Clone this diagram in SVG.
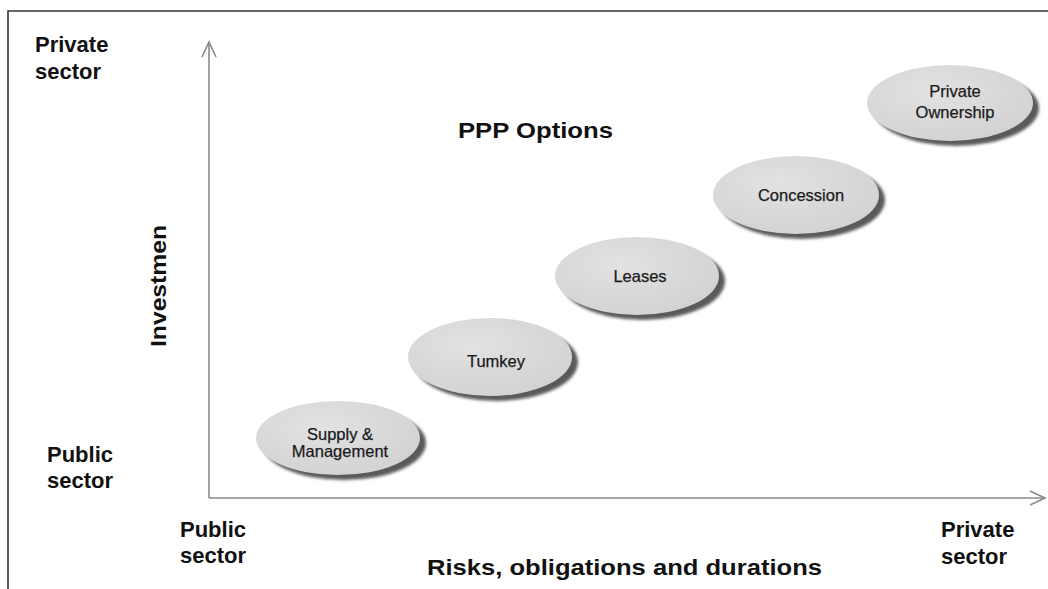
<svg xmlns="http://www.w3.org/2000/svg" width="1048" height="589" viewBox="0 0 1048 589">
  <style>
    .lbl { font-family: "Liberation Sans", Arial, sans-serif; font-weight: bold; font-size: 22px; fill: #111; }
    .node-text { font-family: "Liberation Sans", Arial, sans-serif; font-size: 16.5px; fill: #1a1a1a; text-anchor: middle; stroke: #1a1a1a; stroke-width: 0.25; }
    .shadow { fill: #5a5a5a; filter: url(#blur); }
    .body { fill: #dadada; }
    .axis { stroke: #8a8a8a; stroke-width: 1.6; fill: none; }
  </style>
  <defs>
    <filter id="blur" x="-10%" y="-10%" width="120%" height="120%">
      <feGaussianBlur stdDeviation="1.5"/>
    </filter>
    <radialGradient id="g" cx="40%" cy="35%" r="70%">
      <stop offset="0" stop-color="#e2e2e2"/>
      <stop offset="1" stop-color="#d2d2d2"/>
    </radialGradient>
    <marker id="arr" markerWidth="20" markerHeight="20" refX="16" refY="8" orient="auto" markerUnits="userSpaceOnUse">
      <path d="M1,1 L16,8 L1,15" fill="none" stroke="#8a8a8a" stroke-width="1.6"/>
    </marker>
  </defs>
  <rect width="1048" height="589" fill="#ffffff"/>
  <!-- frame -->
  <path d="M8,589 L8,11 L1048,11" fill="none" stroke="#333" stroke-width="1.6"/>

  <g id="connectors">
    <path class="axis" d="M209,498 L209,42" marker-end="url(#arr)"/>
    <path class="axis" d="M209,498 L1045,498" marker-end="url(#arr)"/>
  </g>

  <g id="labels">
    <text class="lbl" x="35" y="52">Private</text>
    <text class="lbl" x="35" y="79">sector</text>
    <text class="lbl" x="47" y="462">Public</text>
    <text class="lbl" x="47" y="488">sector</text>
    <text class="lbl" x="180" y="537">Public</text>
    <text class="lbl" x="180" y="563">sector</text>
    <text class="lbl" x="941" y="537">Private</text>
    <text class="lbl" x="941" y="564">sector</text>
    <text class="lbl" x="458" y="138" textLength="155" lengthAdjust="spacingAndGlyphs">PPP Options</text>
    <text class="lbl" x="427" y="575" font-size="24" textLength="395" lengthAdjust="spacingAndGlyphs">Risks, obligations and durations</text>
    <text class="lbl" transform="translate(166,286) rotate(-90)" text-anchor="middle" font-size="24" textLength="122" lengthAdjust="spacingAndGlyphs">Investmen</text>
  </g>

  <g id="node-supply">
    <ellipse class="shadow" cx="344" cy="443" rx="82" ry="37"/>
    <ellipse class="body" style="fill:url(#g)" cx="338" cy="438" rx="82" ry="37"/>
    <text class="node-text" x="340" y="440">Supply &amp;</text>
    <text class="node-text" x="340" y="457">Management</text>
  </g>
  <g id="node-turnkey">
    <ellipse class="shadow" cx="496" cy="362" rx="82" ry="39"/>
    <ellipse class="body" style="fill:url(#g)" cx="490" cy="357" rx="82" ry="39"/>
    <text class="node-text" x="496" y="367">Tumkey</text>
  </g>
  <g id="node-leases">
    <ellipse class="shadow" cx="643" cy="281" rx="82" ry="39"/>
    <ellipse class="body" style="fill:url(#g)" cx="637" cy="276" rx="82" ry="39"/>
    <text class="node-text" x="640" y="282">Leases</text>
  </g>
  <g id="node-concession">
    <ellipse class="shadow" cx="802" cy="200" rx="83" ry="39"/>
    <ellipse class="body" style="fill:url(#g)" cx="796" cy="195" rx="83" ry="39"/>
    <text class="node-text" x="801" y="201">Concession</text>
  </g>
  <g id="node-private">
    <ellipse class="shadow" cx="956" cy="108" rx="83" ry="38"/>
    <ellipse class="body" style="fill:url(#g)" cx="950" cy="103" rx="83" ry="38"/>
    <text class="node-text" x="955" y="97">Private</text>
    <text class="node-text" x="955" y="118">Ownership</text>
  </g>
</svg>
